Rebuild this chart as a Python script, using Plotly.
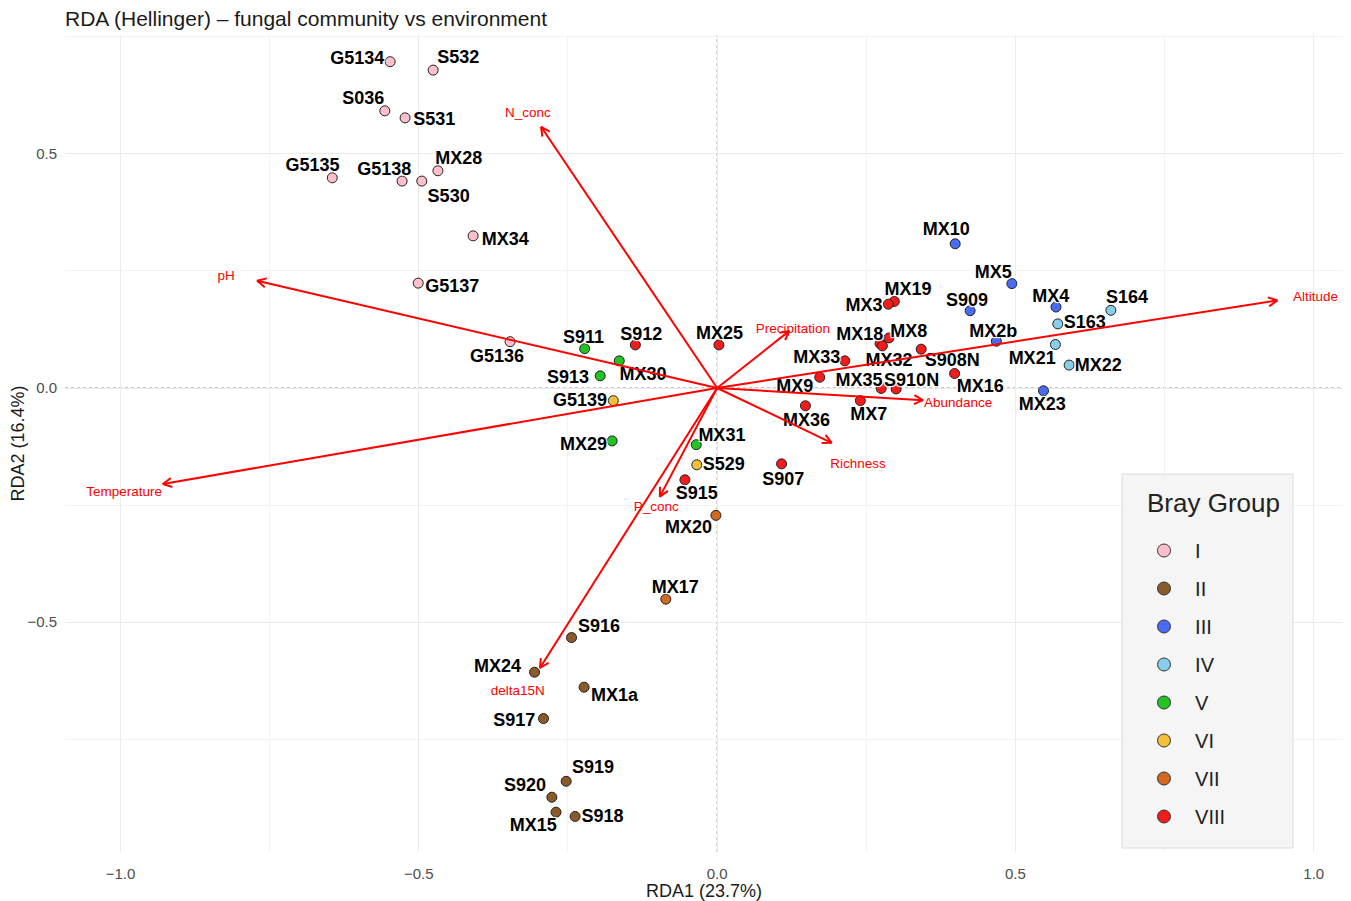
import math
import plotly.graph_objects as go

# ---------------- data ----------------
sample_names = ["G5134", "S532", "S036", "S531", "G5135", "G5138", "S530", "MX28", "MX34", "G5137", "G5136",
                "S916", "MX24", "MX1a", "S917", "S919", "S920", "MX15", "S918",
                "MX10", "MX5", "S909", "MX4", "MX2b", "MX23",
                "S164", "S163", "MX21", "MX22",
                "S911", "MX30", "S913", "MX29", "MX31",
                "G5139", "S529",
                "MX20", "MX17",
                "S912", "MX25", "S915", "S907", "MX19", "MX3", "MX8", "MX18", "MX32", "S908N",
                "MX33", "MX9", "MX16", "MX35", "S910N", "MX7", "MX36"]
sample_group = ["I"] * 11 + ["II"] * 8 + ["III"] * 6 + ["IV"] * 4 + ["V"] * 5 + ["VI"] * 2 + ["VII"] * 2 + ["VIII"] * 17
rda1 = [-0.548, -0.476, -0.557, -0.523, -0.645, -0.528, -0.495, -0.468, -0.409, -0.501, -0.347,
        -0.244, -0.306, -0.223, -0.291, -0.253, -0.277, -0.270, -0.238,
        0.399, 0.494, 0.424, 0.568, 0.468, 0.547,
        0.660, 0.571, 0.567, 0.590,
        -0.222, -0.164, -0.196, -0.176, -0.035,
        -0.174, -0.034,
        -0.002, -0.086,
        -0.137, 0.003, -0.054, 0.108, 0.297, 0.287, 0.288, 0.273, 0.277, 0.342,
        0.214, 0.172, 0.398, 0.275, 0.300, 0.240, 0.148]
rda2 = [0.697, 0.679, 0.592, 0.577, 0.449, 0.442, 0.442, 0.464, 0.325, 0.224, 0.099,
        -0.533, -0.607, -0.639, -0.706, -0.840, -0.874, -0.906, -0.915,
        0.308, 0.223, 0.165, 0.173, 0.100, -0.006,
        0.166, 0.137, 0.093, 0.049,
        0.084, 0.058, 0.026, -0.113, -0.121,
        -0.027, -0.164,
        -0.272, -0.451,
        0.092, 0.092, -0.196, -0.162, 0.185, 0.179, 0.107, 0.095, 0.090, 0.083,
        0.058, 0.023, 0.031, -0.001, -0.002, -0.027, -0.038]
label_x = [-0.603, -0.434, -0.593, -0.474, -0.678, -0.558, -0.450, -0.433, -0.355, -0.444, -0.369,
           -0.198, -0.368, -0.172, -0.340, -0.208, -0.322, -0.308, -0.192,
           0.384, 0.463, 0.419, 0.559, 0.463, 0.545,
           0.687, 0.616, 0.528, 0.639,
           -0.224, -0.124, -0.250, -0.224, 0.008,
           -0.230, 0.011,
           -0.048, -0.070,
           -0.127, 0.004, -0.034, 0.111, 0.320, 0.246, 0.321, 0.239, 0.288, 0.394,
           0.167, 0.130, 0.441, 0.238, 0.326, 0.254, 0.150]
label_y = [0.708, 0.709, 0.622, 0.577, 0.479, 0.471, 0.412, 0.493, 0.321, 0.219, 0.070,
           -0.507, -0.591, -0.654, -0.707, -0.808, -0.846, -0.932, -0.912,
           0.341, 0.250, 0.191, 0.198, 0.124, -0.031,
           0.197, 0.143, 0.067, 0.051,
           0.111, 0.033, 0.026, -0.117, -0.098,
           -0.024, -0.160,
           -0.295, -0.423,
           0.118, 0.119, -0.222, -0.192, 0.213, 0.180, 0.124, 0.118, 0.063, 0.063,
           0.068, 0.006, 0.006, 0.020, 0.019, -0.054, -0.066]

groups = ["I", "II", "III", "IV", "V", "VI", "VII", "VIII"]
group_colors = ["#FFC0CB", "#8B5A2B", "#4A6CF2", "#87CEEB", "#22C322", "#F4C03A", "#D2691E", "#F21C1C"]

env_vars = ["N_conc", "pH", "Temperature", "Altitude", "Precipitation", "Abundance", "Richness", "P_conc", "delta15N"]
env_rda1 = [-0.295, -0.771, -0.929, 0.939, 0.121, 0.345, 0.192, -0.096, -0.297]
env_rda2 = [0.558, 0.229, -0.205, 0.187, 0.122, -0.026, -0.117, -0.232, -0.598]
env_label_x = [-0.317, -0.823, -0.994, 1.003, 0.127, 0.404, 0.236, -0.102, -0.334]
env_label_y = [0.592, 0.244, -0.218, 0.199, 0.130, -0.028, -0.158, -0.250, -0.643]

x_ticks = [-1.0, -0.5, 0.0, 0.5, 1.0]
x_tick_text = ["\u22121.0", "\u22120.5", "0.0", "0.5", "1.0"]
y_ticks = [-0.5, 0.0, 0.5]
y_tick_text = ["\u22120.5", "0.0", "0.5"]

# ---------------- layout constants ----------------
OFF = 8                      # page body margin
W, H = 1351 - OFF, 901 - OFF
PL, PR, PT, PB = 65, 1343, 35, 852   # plot area in page pixels
ML, MT = PL - OFF, PT - OFF
MR = W - (PR - OFF)
MB = H - (PB - OFF)
XR = [-1.093, 1.049]
YR = [-0.991, 0.754]
FONT = "Liberation Sans, Arial, sans-serif"
TEXT_DROP_PX = 2.5           # vertical baseline correction for text labels

sx = (PR - PL) / (XR[1] - XR[0])
sy = (PB - PT) / (YR[1] - YR[0])


def px_to_paper_x(p):
    return (p - PL) / (PR - PL)


def px_to_paper_y(p):
    return (PB - p) / (PB - PT)


fig = go.Figure()

# points by group
for g, col in zip(groups, group_colors):
    idx = [i for i, gg in enumerate(sample_group) if gg == g]
    fig.add_trace(go.Scatter(
        x=[rda1[i] for i in idx], y=[rda2[i] for i in idx],
        mode="markers", showlegend=False, hoverinfo="text",
        text=[sample_names[i] for i in idx],
        marker=dict(size=10, color=col, line=dict(color="#222222", width=1)),
    ))

# sample labels
fig.add_trace(go.Scatter(
    x=label_x, y=[v - TEXT_DROP_PX / sy for v in label_y], text=sample_names, mode="text",
    showlegend=False, hoverinfo="skip", cliponaxis=False,
    textfont=dict(family=FONT, size=18, color="black", weight="bold",
                  shadow="1px 1px 1px white, -1px -1px 1px white, 1px -1px 1px white, -1px 1px 1px white"),
))

# arrows (shafts + open heads)
ax_, ay_ = [], []
L, ang = 10.0, math.radians(27)
for tx, ty in zip(env_rda1, env_rda2):
    ax_ += [0, tx, None]
    ay_ += [0, ty, None]
    dx, dy = tx * sx, ty * sy
    n = math.hypot(dx, dy)
    ux, uy = dx / n, dy / n
    pts = []
    for s in (ang, -ang):
        rx = ux * math.cos(s) - uy * math.sin(s)
        ry = ux * math.sin(s) + uy * math.cos(s)
        pts.append((tx - L * rx / sx, ty - L * ry / sy))
    ax_ += [pts[0][0], tx, pts[1][0], None]
    ay_ += [pts[0][1], ty, pts[1][1], None]
fig.add_trace(go.Scatter(x=ax_, y=ay_, mode="lines", showlegend=False, hoverinfo="skip",
                         line=dict(color="#FF0000", width=2)))

# arrow labels
fig.add_trace(go.Scatter(
    x=env_label_x, y=[v - TEXT_DROP_PX / sy for v in env_label_y], text=env_vars, mode="text",
    showlegend=False, hoverinfo="skip", cliponaxis=False,
    textfont=dict(family=FONT, size=13.5, color="#FF0000"),
))

# legend entries
for g, col in zip(groups, group_colors):
    fig.add_trace(go.Scatter(
        x=[None], y=[None], mode="markers", name="\u00a0\u00a0" + g, legendgroup=g, showlegend=True,
        marker=dict(size=13, color=col, line=dict(color="#333333", width=1)),
    ))

# dotted zero lines
fig.add_shape(type="line", xref="x", yref="paper", x0=0, x1=0, y0=0, y1=1,
              line=dict(color="#8C8C8C", width=1, dash="dot"), layer="below")
fig.add_shape(type="line", xref="paper", yref="y", x0=0, x1=1, y0=0, y1=0,
              line=dict(color="#8C8C8C", width=1, dash="dot"), layer="below")

# legend box + title
fig.add_shape(type="rect", xref="paper", yref="paper",
              x0=px_to_paper_x(1122), x1=px_to_paper_x(1293),
              y0=px_to_paper_y(848), y1=px_to_paper_y(474),
              fillcolor="#F5F5F5", line=dict(color="#DCDCDC", width=1), layer="above")
fig.add_annotation(text="Bray Group", xref="paper", yref="paper",
                   x=px_to_paper_x(1213), y=px_to_paper_y(503), xanchor="center", yanchor="middle",
                   showarrow=False, font=dict(family=FONT, size=26, color="#222222"))

fig.update_layout(
    width=W, height=H,
    margin=dict(l=ML, r=MR, t=MT, b=MB, autoexpand=False),
    plot_bgcolor="white", paper_bgcolor="white",
    font=dict(family=FONT, color="#222222"),
    title=dict(text="RDA (Hellinger) \u2013 fungal community vs environment",
               x=ML / W, xanchor="left", y=1 - (19 - OFF) / H, yanchor="middle", yref="container",
               font=dict(size=21, color="#1A1A1A")),
    xaxis=dict(range=XR, tickvals=x_ticks, ticktext=x_tick_text, zeroline=False,
               showgrid=True, gridcolor="#EBEBEB", gridwidth=1.2, ticks="", showline=False,
               tickfont=dict(size=15, color="#4D4D4D"), ticklabelstandoff=11, automargin=False,
               minor=dict(dtick=0.25, tick0=0.25, showgrid=True, gridcolor="#F3F3F3", gridwidth=0.8),
               title=dict(text="RDA1 (23.7%)", font=dict(size=18, color="#1A1A1A"), standoff=5)),
    yaxis=dict(range=YR, tickvals=y_ticks, ticktext=y_tick_text, zeroline=False,
               showgrid=True, gridcolor="#EBEBEB", gridwidth=1.2, ticks="", showline=False,
               tickfont=dict(size=15, color="#4D4D4D"), ticklabelstandoff=7, automargin=False,
               minor=dict(dtick=0.25, tick0=0.25, showgrid=True, gridcolor="#F3F3F3", gridwidth=0.8),
               title=dict(text="RDA2 (16.4%)", font=dict(size=18, color="#1A1A1A"), standoff=3)),
    legend=dict(
        x=px_to_paper_x(1144), xanchor="left",
        y=px_to_paper_y(531), yanchor="top",
        bgcolor="rgba(0,0,0,0)", borderwidth=0,
        font=dict(size=20, color="#222222"),
        tracegroupgap=9, itemsizing="trace",
    ),
)

fig.write_html("out.html")
